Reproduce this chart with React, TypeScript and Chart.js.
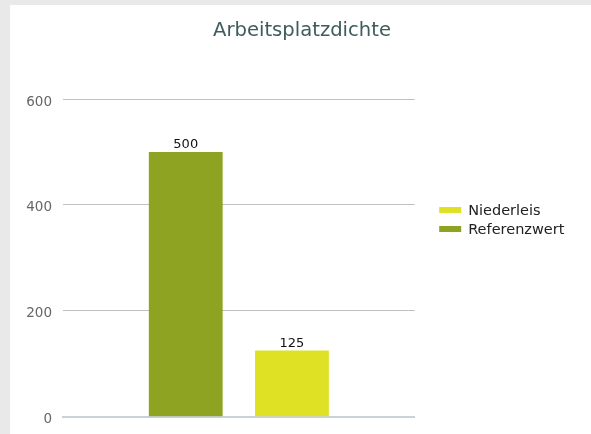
import React, { useEffect, useRef } from "react";
import { Chart, registerables } from "chart.js";

Chart.register(...registerables);

const categories = ["Arbeitsplatzdichte"];
const seriesNames = ["Referenzwert", "Niederleis"];
const referenzwertValues = [500];
const niederleisValues = [125];
const seriesColors = ["#8fa322", "#dfe224"];
const yTicks = [0, 200, 400, 600];

const FONT = "'DejaVu Sans', sans-serif";

const valueLabelPlugin = {
  id: "valueLabels",
  afterDatasetsDraw(chart: any) {
    const ctx = chart.ctx;
    ctx.save();
    ctx.font = `13px ${FONT}`;
    ctx.fillStyle = "#111111";
    ctx.textAlign = "center";
    ctx.textBaseline = "alphabetic";
    chart.data.datasets.forEach((ds: any, i: number) => {
      const meta = chart.getDatasetMeta(i);
      meta.data.forEach((bar: any, j: number) => {
        ctx.fillText(String(ds.data[j]), bar.x, bar.y - 4);
      });
    });
    ctx.restore();
  },
};

const sideLegendPlugin = {
  id: "sideLegend",
  afterDraw(chart: any) {
    const ctx = chart.ctx;
    const items = chart.data.datasets.map((ds: any) => ({ label: ds.label, color: ds.backgroundColor })).reverse();
    const rowH = 19;
    const x = chart.chartArea.right + 24.5;
    const startY = chart.height / 2 - ((items.length - 1) * rowH) / 2;
    ctx.save();
    ctx.font = `14.5px ${FONT}`;
    ctx.textBaseline = "middle";
    ctx.textAlign = "left";
    items.forEach((it: any, i: number) => {
      const cy = startY + i * rowH;
      ctx.fillStyle = it.color;
      ctx.fillRect(x, cy - 3, 22, 6);
      ctx.fillStyle = "#222222";
      ctx.fillText(it.label, x + 29, cy + 1);
    });
    ctx.restore();
  },
};

const zeroPad = (scale: any) => {
  scale.paddingTop = 0;
  scale.paddingBottom = 0;
  scale.paddingLeft = 0;
  scale.paddingRight = 0;
};

export default function App() {
  const ref = useRef<HTMLCanvasElement | null>(null);
  useEffect(() => {
    if (!ref.current) return;
    const chart = new Chart(ref.current, {
      type: "bar",
      data: {
        labels: categories,
        datasets: [
          {
            label: seriesNames[0],
            data: referenzwertValues,
            backgroundColor: seriesColors[0],
            barPercentage: 0.695,
            categoryPercentage: 0.604,
          },
          {
            label: seriesNames[1],
            data: niederleisValues,
            backgroundColor: seriesColors[1],
            barPercentage: 0.695,
            categoryPercentage: 0.604,
          },
        ],
      },
      options: {
        animation: false,
        responsive: false,
        maintainAspectRatio: false,
        layout: { padding: { left: 3, right: 0, top: 0, bottom: 0 } },
        plugins: {
          legend: { display: false },
          tooltip: { enabled: false },
          title: {
            display: true,
            text: "Arbeitsplatzdichte",
            color: "#3d5c5c",
            font: { family: FONT, size: 19.6, weight: "normal" },
            padding: { top: 14.6, bottom: 55.9 },
          },
        },
        scales: {
          x: {
            ticks: { display: false },
            grid: { display: false },
            border: { display: true, color: "#c8d2dc", width: 2 },
            afterFit(scale: any) {
              scale.height = 17.3;
              zeroPad(scale);
            },
          },
          y: {
            min: 0,
            max: 600,
            afterBuildTicks(scale: any) {
              scale.ticks = yTicks.map((v) => ({ value: v }));
            },
            ticks: {
              padding: 11,
              labelOffset: 3,
              color: "#666666",
              font: { family: FONT, size: 13.5 },
            },
            grid: {
              drawTicks: false,
              color: (c: any) => (c.tick && c.tick.value === 0 ? "rgba(0,0,0,0)" : "#c0c0c0"),
              lineWidth: 1,
            },
            border: { display: false },
            afterFit(scale: any) {
              scale.width = 50;
              zeroPad(scale);
            },
          },
          legendSpace: {
            type: "linear",
            position: "right",
            display: true,
            ticks: { display: false },
            grid: { display: false, drawTicks: false },
            border: { display: false },
            afterFit(scale: any) {
              scale.width = 176.3;
              zeroPad(scale);
            },
          },
        },
      },
      plugins: [valueLabelPlugin, sideLegendPlugin],
    });
    return () => chart.destroy();
  }, []);

  return (
    <div style={{ position: "fixed", inset: 0, background: "#e9e9e9" }}>
      <div style={{ position: "absolute", left: 10, top: 5, width: 581, height: 429, background: "#ffffff" }}>
        <canvas ref={ref} width={581} height={429} style={{ display: "block", width: 581, height: 429 }} />
      </div>
    </div>
  );
}
